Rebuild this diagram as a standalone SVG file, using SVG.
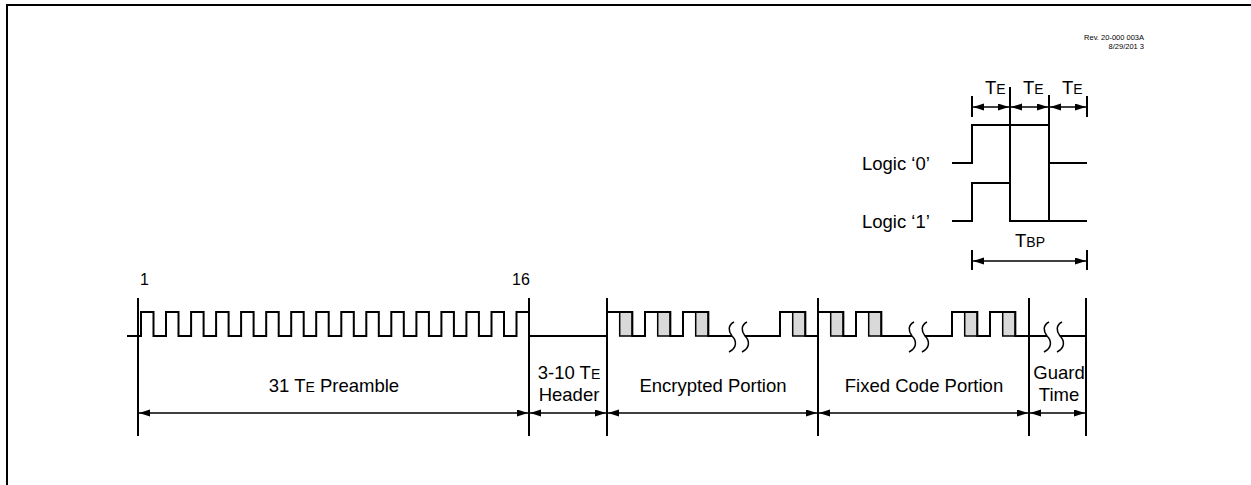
<svg xmlns="http://www.w3.org/2000/svg" width="1251" height="485" viewBox="0 0 1251 485">
<defs>
<style>
.wave{fill:none;stroke:#000;stroke-width:2;stroke-linejoin:miter}
.tick{fill:none;stroke:#000;stroke-width:2}
.dim{fill:none;stroke:#000;stroke-width:1.5;marker-start:url(#ah);marker-end:url(#ah)}
.bitbox{fill:#d9d9d9;stroke:#000;stroke-width:1.5}
.brk{fill:none;stroke:#000;stroke-width:1.5}
.lbl{font-family:"Liberation Sans",Arial,sans-serif;font-size:18.5px;fill:#000}
.sm{font-size:14px}
.num{font-family:"Liberation Sans",Arial,sans-serif;font-size:16px;fill:#000}
.rev{font-family:"Liberation Sans",Arial,sans-serif;font-size:7.5px;fill:#000}
</style>
<marker id="ah" markerUnits="userSpaceOnUse" markerWidth="12" markerHeight="8" refX="11" refY="3.5" orient="auto-start-reverse">
<path d="M0,0 L11,3.5 L0,7 Z" fill="#000"/>
</marker>
</defs>
<rect width="1251" height="485" fill="#fff"/>
<path id="border" d="M7,486 V5 H1252" fill="none" stroke="#000" stroke-width="2"/>

<g id="rev">
<text class="rev" x="1144" y="40" text-anchor="end">Rev. 20-000 003A</text>
<text class="rev" x="1144" y="49" text-anchor="end">8/29/201 3</text>
</g>

<g id="logic-timing">
<path class="wave" d="M952,163 H972 V125 H1049 V163 H1087"/>
<path class="wave" d="M952,221 H972 V183 H1010 V221 H1087"/>
<path class="tick" d="M1010,87 V221 M1049,95 V221 M972,96 V117 M1087,96 V117 M972,250 V270 M1087,250 V270"/>
<text class="lbl" x="862" y="170">Logic ‘0’</text>
<text class="lbl" x="862" y="228">Logic ‘1’</text>
<text class="lbl" x="985" y="94">T<tspan class="sm">E</tspan></text>
<text class="lbl" x="1023" y="94">T<tspan class="sm">E</tspan></text>
<text class="lbl" x="1062" y="94">T<tspan class="sm">E</tspan></text>
<text class="lbl" x="1030" y="247" text-anchor="middle">T<tspan class="sm">BP</tspan></text>
</g>

<g id="frame-waveform">
<rect class="bitbox" x="619.7" y="312" width="12.6" height="24"/>
<rect class="bitbox" x="657.7" y="312" width="12.6" height="24"/>
<rect class="bitbox" x="695.7" y="312" width="12.6" height="24"/>
<rect class="bitbox" x="792.7" y="312" width="12.6" height="24"/>
<rect class="bitbox" x="830.7" y="312" width="12.6" height="24"/>
<rect class="bitbox" x="868.7" y="312" width="12.6" height="24"/>
<rect class="bitbox" x="964.7" y="312" width="12.6" height="24"/>
<rect class="bitbox" x="1002.7" y="312" width="12.6" height="24"/>
<path class="wave" d="M127,336 H141 V312 H153.5 V336 H166 V312 H178.5 V336 H191.1 V312 H203.6 V336 H216.1 V312 H228.6 V336 H241.1 V312 H253.6 V336 H266.2 V312 H278.7 V336 H291.2 V312 H303.7 V336 H316.2 V312 H328.7 V336 H341.3 V312 H353.8 V336 H366.3 V312 H378.8 V336 H391.3 V312 H403.8 V336 H416.4 V312 H428.9 V336 H441.4 V312 H453.9 V336 H466.4 V312 H478.9 V336 H491.5 V312 H504 V336 H516.5 V312 H529 V336 H607 V312 H632.3 V336 H645 V312 H670.3 V336 H683 V312 H708.3 V336 H732"/>
<path class="wave" d="M745,336 H780 V312 H805.3 V336 H818 V312 H843.3 V336 H856 V312 H881.3 V336 H912"/>
<path class="wave" d="M925,336 H952 V312 H977.3 V336 H990 V312 H1015.3 V336 H1047"/>
<path class="wave" d="M1060,336 H1086"/>
<path class="brk" d="M734,322 C728,325 728,331 732,336 C737,341 737,348 729,352 M747,322 C741,325 741,331 745,336 C750,341 750,348 742,352"/>
<path class="brk" d="M914,322 C908,325 908,331 912,336 C917,341 917,348 909,352 M927,322 C921,325 921,331 925,336 C930,341 930,348 922,352"/>
<path class="brk" d="M1049,322 C1043,325 1043,331 1047,336 C1052,341 1052,348 1044,352 M1062,322 C1056,325 1056,331 1060,336 C1065,341 1065,348 1057,352"/>
<path class="tick" d="M138,298 V436 M529,298 V436 M607,298 V436 M818,298 V436 M1029,298 V436 M1086,298 V436"/>
<text class="num" x="140" y="285">1</text>
<text class="num" x="512" y="285">16</text>
</g>

<g id="connectors">
<line class="dim" x1="973" y1="107" x2="1009" y2="107"/>
<line class="dim" x1="1011" y1="107" x2="1048" y2="107"/>
<line class="dim" x1="1050" y1="107" x2="1086" y2="107"/>
<line class="dim" x1="973" y1="261" x2="1086" y2="261"/>
<line class="dim" x1="139" y1="413" x2="528" y2="413"/>
<line class="dim" x1="530" y1="413" x2="606" y2="413"/>
<line class="dim" x1="608" y1="413" x2="817" y2="413"/>
<line class="dim" x1="819" y1="413" x2="1028" y2="413"/>
<line class="dim" x1="1030" y1="413" x2="1085" y2="413"/>
</g>

<g id="section-labels">
<text class="lbl" x="334" y="392" text-anchor="middle">31 T<tspan class="sm">E</tspan> Preamble</text>
<text class="lbl" x="569" y="379" text-anchor="middle">3-10 T<tspan class="sm">E</tspan></text>
<text class="lbl" x="569" y="401" text-anchor="middle">Header</text>
<text class="lbl" x="713" y="392" text-anchor="middle">Encrypted Portion</text>
<text class="lbl" x="924" y="392" text-anchor="middle">Fixed Code Portion</text>
<text class="lbl" x="1059" y="379" text-anchor="middle">Guard</text>
<text class="lbl" x="1059" y="401" text-anchor="middle">Time</text>
</g>
</svg>
